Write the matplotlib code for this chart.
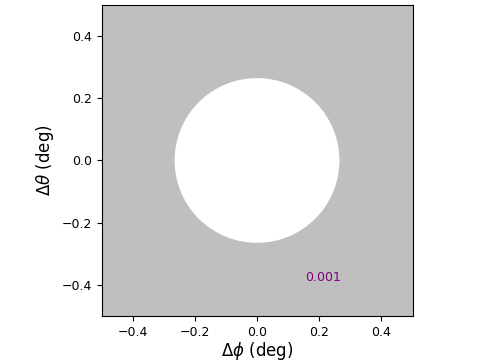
import matplotlib
matplotlib.use("Agg")
import matplotlib.pyplot as plt
from matplotlib.patches import Circle

# beam footprint: grey field with a white disk
extent = [-0.5, 0.5, -0.5, 0.5]
disk_center = (0.0, 0.0)
disk_radius = 0.265
label_pos = (0.155, -0.375)
label_text = "0.001"

fig = plt.figure(figsize=(5, 3.61), dpi=100)
ax = fig.add_axes([0.203, 0.125, 0.622, 0.861])
ax.set_facecolor("#bfbfbf")
ax.add_patch(Circle(disk_center, disk_radius, facecolor="white", edgecolor="none"))
ax.text(label_pos[0], label_pos[1], label_text, color="#7f007f", fontsize=9,
        ha="left", va="center")

ax.set_xlim(extent[0], extent[1])
ax.set_ylim(extent[2], extent[3])
ax.set_xticks([-0.4, -0.2, 0.0, 0.2, 0.4])
ax.set_yticks([-0.4, -0.2, 0.0, 0.2, 0.4])
ax.tick_params(labelsize=9)
ax.set_xlabel(r"$\Delta\phi$ (deg)", fontsize=12, labelpad=1)
ax.set_ylabel(r"$\Delta\theta$ (deg)", fontsize=12)

fig.savefig("out.png", dpi=100)
